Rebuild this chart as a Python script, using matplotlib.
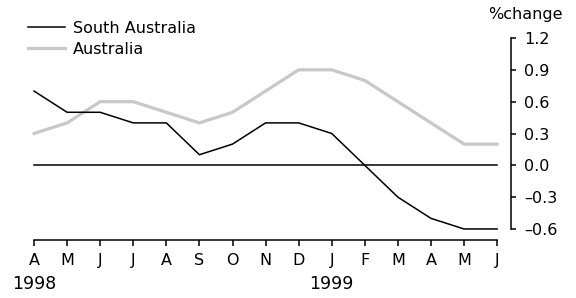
"""South Australia vs Australia, % change, Apr 1998 - Jun 1999."""

import matplotlib

matplotlib.use("Agg")
import matplotlib.pyplot as plt
import matplotlib.transforms as mtransforms
import numpy as np

MONTHS = ["A", "M", "J", "J", "A", "S", "O", "N", "D", "J", "F", "M", "A", "M", "J"]
YEAR_LABELS = {0: "1998", 9: "1999"}
SOUTH_AUSTRALIA = [0.7, 0.5, 0.5, 0.4, 0.4, 0.1, 0.2, 0.4, 0.4, 0.3, 0.0, -0.3, -0.5, -0.6, -0.6]
AUSTRALIA = [0.3, 0.4, 0.6, 0.6, 0.5, 0.4, 0.5, 0.7, 0.9, 0.9, 0.8, 0.6, 0.4, 0.2, 0.2]
YTICKS = [-0.6, -0.3, 0.0, 0.3, 0.6, 0.9, 1.2]

plt.rcParams["font.family"] = ["DejaVu Sans"]
FS = 11.5

fig = plt.figure(figsize=(5.76, 2.98), dpi=100)
ax = fig.add_axes([0.0476, 0.1946, 0.8396, 0.6956])

x = np.arange(len(MONTHS))
ax.plot([x[0], x[-1]], [0, 0], color="black", linewidth=1.1)
ax.plot(x, AUSTRALIA, color="#c8c8c8", linewidth=2.3, label="Australia")
ax.plot(x, SOUTH_AUSTRALIA, color="black", linewidth=1.1, label="South Australia")

ax.set_xlim(-0.2, 14.42)
ax.set_ylim(-0.704, 1.25)

for side in ("left", "top"):
    ax.spines[side].set_visible(False)
ax.spines["right"].set_bounds(-0.6, 1.2)
ax.spines["bottom"].set_bounds(0, len(MONTHS) - 1)
for side in ("right", "bottom"):
    ax.spines[side].set_linewidth(1.1)

ax.yaxis.tick_right()
ax.set_yticks(YTICKS)
ax.set_yticklabels([f"{v:.1f}".replace("-", "\u2013") for v in YTICKS])
ax.tick_params(axis="y", direction="out", length=3.5, width=1.1, pad=6, labelsize=FS)
ax.set_xticks(x)
ax.set_xticklabels(MONTHS)
ax.tick_params(axis="x", direction="out", length=4.5, width=1.1, pad=5, labelsize=FS)

trans = mtransforms.blended_transform_factory(ax.transData, fig.transFigure)
for idx, label in YEAR_LABELS.items():
    ax.text(idx, 1 - 284 / 298, label, transform=trans, ha="center", va="center", fontsize=12.5)

fig.text(525 / 576, 1 - 15 / 298, "%change", ha="center", va="center", fontsize=FS)

handles, labels = ax.get_legend_handles_labels()
order = [labels.index("South Australia"), labels.index("Australia")]
ax.legend(
    [handles[i] for i in order],
    [labels[i] for i in order],
    loc="upper left",
    bbox_to_anchor=(28 / 576, 1 - 21 / 298),
    bbox_transform=fig.transFigure,
    frameon=False,
    fontsize=FS,
    handlelength=2.3,
    handletextpad=0.5,
    labelspacing=0.35,
    borderpad=0,
    borderaxespad=0,
)

fig.savefig("out.png", dpi=100)
